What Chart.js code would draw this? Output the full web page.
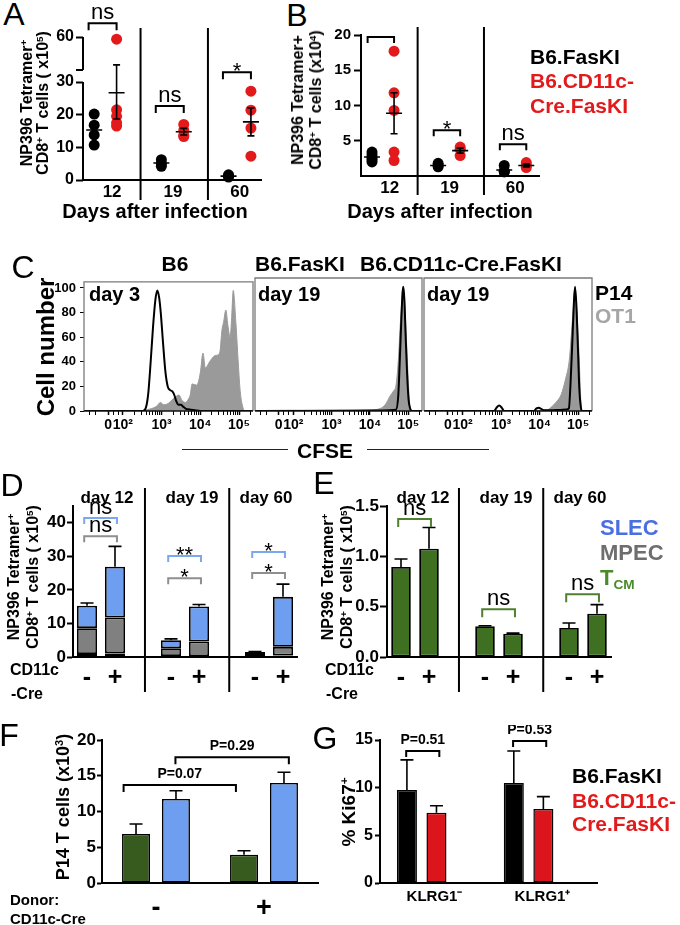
<!DOCTYPE html>
<html><head><meta charset="utf-8"><title>Figure</title>
<script src="https://cdn.jsdelivr.net/npm/chart.js@4.4.1/dist/chart.umd.min.js"></script>
<style>
html,body{margin:0;padding:0;background:#fff;}
#fig{position:relative;width:680px;height:925px;overflow:hidden;background:#fff;font-family:"Liberation Sans",Arial,Helvetica,sans-serif;color:#000;}
#fig canvas{position:absolute;}
.t{position:absolute;white-space:nowrap;line-height:1;font-weight:bold;}
.c{transform:translate(-50%,-50%);}
.l{transform:translate(0,-50%);}
.r{transform:translate(-50%,-50%) rotate(-90deg);text-align:center;}
.let{position:absolute;font-weight:normal;font-size:32px;line-height:1;transform:translate(-50%,-50%);}
sup{font-size:0.62em;line-height:0;vertical-align:0.55em;}
sub{font-size:0.62em;line-height:0;vertical-align:-0.3em;}
.hl{position:absolute;height:0;border-top:1.3px solid #222;}
</style></head>
<body><div id="fig">
<div class="let" style="left:14px;top:14px">A</div>
<div class="let" style="left:297px;top:15px">B</div>
<div class="let" style="left:23px;top:267px">C</div>
<div class="let" style="left:12px;top:485px">D</div>
<div class="let" style="left:324px;top:483px">E</div>
<div class="let" style="left:9px;top:735px">F</div>
<div class="let" style="left:325px;top:738px">G</div>

<div class="t r" style="left:35px;top:103px;font-size:16px;line-height:16px">NP396 Tetramer<sup>+</sup><br>CD8<sup>+</sup> T cells ( x10<sup>5</sup>)</div>
<div class="t c" style="left:155px;top:211px;font-size:20px">Days after infection</div>
<div class="t r" style="left:307px;top:100px;font-size:16px;line-height:18px">NP396 Tetramer+<br>CD8<sup>+</sup> T cells (x10<sup>4</sup>)</div>
<div class="t c" style="left:440px;top:211px;font-size:20px">Days after infection</div>
<div class="t l" style="left:530px;top:56px;font-size:21px">B6.FasKI</div>
<div class="t l" style="left:530px;top:80px;font-size:21px;color:#e31a1c">B6.CD11c-</div>
<div class="t l" style="left:530px;top:105px;font-size:21px;color:#e31a1c">Cre.FasKI</div>

<div class="t c" style="left:175px;top:263px;font-size:21px">B6</div>
<div class="t l" style="left:255px;top:263px;font-size:21px">B6.FasKI</div>
<div class="t l" style="left:360px;top:263px;font-size:21px">B6.CD11c-Cre.FasKI</div>
<div class="t r" style="left:46px;top:347px;font-size:24px">Cell number</div>
<div class="t l" style="left:89px;top:294px;font-size:20px">day 3</div>
<div class="t l" style="left:258px;top:294px;font-size:20px">day 19</div>
<div class="t l" style="left:427px;top:294px;font-size:20px">day 19</div>
<div class="t l" style="left:595px;top:292px;font-size:21px">P14</div>
<div class="t l" style="left:595px;top:315px;font-size:21px;color:#a6a6a6">OT1</div>
<div class="hl" style="left:182px;top:449px;width:106px"></div>
<div class="t c" style="left:325px;top:450px;font-size:21px">CFSE</div>
<div class="hl" style="left:367px;top:449px;width:122px"></div>

<div class="t r" style="left:23px;top:577px;font-size:16px;line-height:19px">NP396 Tetramer<sup>+</sup><br>CD8<sup>+</sup> T cells ( x10<sup>5</sup>)</div>
<div class="t c" style="left:107px;top:497px;font-size:17px">day 12</div>
<div class="t c" style="left:192px;top:497px;font-size:17px">day 19</div>
<div class="t c" style="left:266px;top:497px;font-size:17px">day 60</div>
<div class="t l" style="left:10px;top:670px;font-size:16px">CD11c</div>
<div class="t l" style="left:11px;top:694px;font-size:16px">-Cre</div>

<div class="t r" style="left:337px;top:577px;font-size:16px;line-height:19px">NP396 Tetramer<sup>+</sup><br>CD8<sup>+</sup> T cells ( x10<sup>5</sup>)</div>
<div class="t c" style="left:423px;top:497px;font-size:17px">day 12</div>
<div class="t c" style="left:506px;top:497px;font-size:17px">day 19</div>
<div class="t c" style="left:580px;top:497px;font-size:17px">day 60</div>
<div class="t l" style="left:600px;top:528px;font-size:22px;color:#4a6fe3">SLEC</div>
<div class="t l" style="left:600px;top:553px;font-size:22px;color:#6e6e6e">MPEC</div>
<div class="t l" style="left:600px;top:578px;font-size:22px;color:#4b8a2b">T<sub>CM</sub></div>
<div class="t l" style="left:325px;top:670px;font-size:16px">CD11c</div>
<div class="t l" style="left:326px;top:694px;font-size:16px">-Cre</div>

<div class="t r" style="left:63px;top:807px;font-size:18px">P14 T cells (x10<sup>3</sup>)</div>
<div class="t l" style="left:10px;top:899px;font-size:15px">Donor:</div>
<div class="t l" style="left:10px;top:918px;font-size:15px">CD11c-Cre</div>

<div class="t r" style="left:348px;top:812px;font-size:19px">% Ki67<sup>+</sup></div>
<div class="t l" style="left:572px;top:775px;font-size:21px">B6.FasKI</div>
<div class="t l" style="left:572px;top:800px;font-size:21px;color:#e31a1c">B6.CD11c-</div>
<div class="t l" style="left:572px;top:823px;font-size:21px;color:#e31a1c">Cre.FasKI</div>
</div>
<script>
// ================= DATA =================
// Panel A: NP396 tetramer+ CD8+ T cells (x10^5), individual mice
const daysA = ['12', '19', '60'];
const aFasKI = [[20.2, 16.8, 13.8, 10.7], [6.2, 5.0, 4.2], [1.6, 1.2, 0.9]];
const aCre = [[58, 21.5, 19.5, 17.5, 16.5], [17.0, 15.2, 13.7, 13.3], [27.2, 21.4, 15.9, 7.3]];
const aFasKIMean = [15.3, 5.2, 1.2];
const aFasKISem = [2.0, 0.6, 0.2];
const aCreMean = [26.7, 14.8, 17.8];
const aCreSem = [8.0, 1.0, 4.3];
const aSig = ['ns', 'ns', '*'];
const aSigY = [48, 22.7, 33];
const aTicks = [0, 10, 20, 30, 60];

// Panel B: NP396 tetramer+ CD8+ T cells (x10^4)
const daysB = ['12', '19', '60'];
const bFasKI = [[3.4, 3.0, 2.6, 2.3, 2.0], [1.8, 1.5, 1.3], [1.5, 0.7, 0.6, 0.6]];
const bCre = [[17.7, 11.8, 9.3, 3.4, 2.2], [4.1, 3.8, 2.9], [1.9, 1.5, 1.2]];
const bFasKIMean = [2.7, 1.5, 0.85];
const bFasKISem = [0.3, 0.15, 0.25];
const bCreMean = [8.9, 3.6, 1.5];
const bCreSem = [2.9, 0.35, 0.2];
const bSig = ['', '*', 'ns'];
const bSigY = [19.7, 6.5, 4.5];
const bTicks = [5, 10, 15, 20];

// Panel C: CFSE histograms, [log10 CFSE, % of max]
const cfseMajor = [1.62, 2, 3, 4, 5];
const cfseMajorLbl = ['0', '10²', '10³', '10⁴', '10⁵'];
const c1P14 = [[1.0,0],[2.52,0],[2.6,3],[2.66,15],[2.72,40],[2.78,68],[2.84,90],[2.89,98],[2.94,92],[2.98,80],[3.04,55],[3.1,32],[3.16,20],[3.22,17],[3.28,16],[3.33,13],[3.38,8],[3.44,5],[3.5,5],[3.56,3.5],[3.62,2],[3.72,1.2],[3.85,0.6],[4.0,0],[5.36,0]];
const c1OT1 = [[1.0,0],[2.5,0],[2.62,1],[2.75,2],[2.88,4],[2.97,7],[3.06,5],[3.19,6.5],[3.3,10],[3.38,12],[3.45,13],[3.53,8.5],[3.62,7],[3.7,10],[3.74,13],[3.79,22],[3.91,21],[4.0,31],[4.07,47],[4.13,35],[4.26,41],[4.38,45],[4.5,47],[4.56,66],[4.6,72],[4.66,82],[4.71,70],[4.77,60],[4.81,76],[4.85,98],[4.92,71],[4.98,39],[5.03,16],[5.09,4],[5.15,0],[5.36,0]];
const c2P14 = [[1.0,0],[4.2,0.3],[4.5,0.6],[4.68,1],[4.74,12],[4.78,40],[4.82,72],[4.85,92],[4.87,98],[4.9,88],[4.93,62],[4.97,30],[5.01,9],[5.05,2],[5.1,0],[5.36,0]];
const c2OT1 = [[1.0,0.3],[1.8,0.6],[2.3,0.3],[3.0,0.2],[3.5,0.4],[4.0,0.8],[4.27,2],[4.4,5],[4.53,12],[4.62,16],[4.68,20],[4.74,39],[4.8,72],[4.87,98],[4.93,72],[4.98,38],[5.03,8],[5.07,0],[5.36,0]];
const c3P14 = [[1.0,0],[2.82,0],[2.88,2.5],[2.95,4.3],[3.02,2.5],[3.08,0],[3.85,0],[3.92,2],[3.98,2.6],[4.05,1.5],[4.12,0.5],[4.5,0.8],[4.7,1.2],[4.76,2],[4.8,20],[4.85,55],[4.89,85],[4.92,98],[4.96,80],[5.0,45],[5.03,18],[5.07,3],[5.1,0],[5.36,0]];
const c3OT1 = [[1.0,0],[3.5,0.3],[4.2,1],[4.3,3],[4.43,7],[4.56,13],[4.68,26],[4.77,40],[4.85,71],[4.92,98],[4.97,77],[5.03,40],[5.07,8],[5.1,0],[5.36,0]];
const cYTicks = [0, 20, 40, 60, 80, 100];

// Panel D: stacked subsets (x10^5); CD11c-Cre "-" and "+" per day
const creSigns = ['-', '+'];
const dMpecNeg = [7.7, 2.3, 0.9], dMpecPos = [10.7, 4.4, 2.6];
const dSlecNeg = [6.7, 2.4, 0.3], dSlecPos = [15.1, 10.4, 14.9];
const dErrNeg = [0.8, 0.4, 0.1], dErrPos = [6.1, 0.6, 3.8];
const dSigSlec = ['ns', '**', '*'], dSigSlecY = [41.4, 30.1, 31.3];
const dSigMpec = ['ns', '*', '*'], dSigMpecY = [36.0, 23.5, 25.0];
const dTicks = [0, 10, 20, 30, 40];

// Panel E: T_CM (x10^5)
const eTcmNeg = [0.894, 0.305, 0.288], eTcmPos = [1.076, 0.232, 0.43];
const eErrNeg = [0.08, 0.006, 0.05], eErrPos = [0.21, 0.005, 0.09];
const eSig = ['ns', 'ns', 'ns'], eSigY = [1.37, 0.475, 0.624];
const eTicks = [0, 0.5, 1.0, 1.5];

// Panel F: P14 T cells (x10^3), donor CD11c-Cre - / +
const fDonor = ['-', '+'];
const fGreen = [6.85, 3.96], fGreenErr = [1.4, 0.55];
const fBlue = [11.75, 14.0], fBlueErr = [1.15, 1.5];
const fSigLbl = ['P=0.07', 'P=0.29'], fSigX1 = [-0.3, 0.18], fSigX2 = [0.74, 1.23], fSigY = [13.7, 17.6];
const fTicks = [0, 5, 10, 15, 20];

// Panel G: % Ki67+
const gCats = ['KLRG1⁻', 'KLRG1⁺'];
const gFasKI = [9.76, 10.5], gFasKIErr = [3.15, 3.35];
const gCre = [7.38, 7.76], gCreErr = [0.73, 1.3];
const gSig = ['P=0.51', 'P=0.53'], gSigY = [13.85, 14.9];
const gTicks = [0, 5, 10, 15];

// ================= STYLE / LAYOUT =================
const FONT = '"Liberation Sans", Arial, Helvetica, sans-serif';
const RED = '#e31a1c', RED_BAR = '#dc141c', BLUE = '#6d9ef0', GRAY = '#808080', GREEN_D = '#4a8a2a', GREEN_E = '#3f7022', GREEN_F = '#375a1e';
const GROUP = 3; // slots per day group (two bars/dots + gap)
const DIVIDERS = [2.07, 5.08];

Chart.defaults.font.family = FONT;
Chart.defaults.font.weight = 'bold';
Chart.defaults.color = '#000';

class BrokenLinear extends Chart.LinearScale {
  getPixelForValue(v) {
    const b = this.options.brk, L = this.bottom - this.top;
    if (v <= b.at) return this.bottom - (v - this.min) / (b.at - this.min) * b.low * L;
    return this.bottom - (b.low + b.gap) * L - (v - b.at) / (this.max - b.at) * (1 - b.low - b.gap) * L;
  }
  getValueForPixel(p) {
    const b = this.options.brk, L = this.bottom - this.top, d = (this.bottom - p) / L;
    if (d <= b.low) return this.min + d / b.low * (b.at - this.min);
    return b.at + (d - b.low - b.gap) / (1 - b.low - b.gap) * (this.max - b.at);
  }
  annotPixel(v) {
    const b = this.options.brk, L = this.bottom - this.top;
    return this.bottom - (v - this.min) / (b.at - this.min) * b.low * L;
  }
  upperStart() {
    const b = this.options.brk, L = this.bottom - this.top;
    return this.bottom - (b.low + b.gap) * L;
  }
}
BrokenLinear.id = 'brokenLinear';
BrokenLinear.defaults = Chart.LinearScale.defaults;
Chart.register(BrokenLinear);

function deco(o) {
  return {
    id: 'deco',
    afterDatasetsDraw(chart) {
      const ctx = chart.ctx, ca = chart.chartArea, xs = chart.scales.x, ys = chart.scales.y;
      const yp = v => (ys.annotPixel ? ys.annotPixel(v) : ys.getPixelForValue(v));
      ctx.save();
      if (o.box) {
        ctx.strokeStyle = o.box; ctx.lineWidth = 1.3;
        ctx.beginPath(); ctx.moveTo(ca.left, ca.bottom); ctx.lineTo(ca.left, ca.top); ctx.lineTo(ca.right, ca.top); ctx.lineTo(ca.right, ca.bottom); ctx.stroke();
        ctx.strokeStyle = '#111'; ctx.lineWidth = 1.6;
        ctx.beginPath(); ctx.moveTo(ca.left, ca.bottom); ctx.lineTo(ca.right, ca.bottom); ctx.stroke();
      }
      if (o.broken) {
        const us = ys.upperStart();
        ctx.strokeStyle = '#000'; ctx.lineWidth = 2;
        ctx.beginPath();
        ctx.moveTo(ca.left, ca.bottom); ctx.lineTo(ca.left, ys.getPixelForValue(ys.options.brk.at));
        ctx.moveTo(ca.left, us); ctx.lineTo(ca.left, ca.top);
        ctx.moveTo(ca.left - 7, us); ctx.lineTo(ca.left, us);
        ctx.stroke();
      }
      chart.data.datasets.forEach((ds, di) => {
        if (ds.means) {
          ctx.strokeStyle = '#000'; ctx.lineWidth = 1.6;
          ds.means.forEach((m, g) => {
            const x = xs.getPixelForValue(ds.slots[g]);
            const ym = ys.getPixelForValue(m), yt = ys.getPixelForValue(m + ds.sems[g]), yb = ys.getPixelForValue(Math.max(0, m - ds.sems[g]));
            ctx.beginPath();
            ctx.moveTo(x - 8, ym); ctx.lineTo(x + 8, ym);
            ctx.moveTo(x, yt); ctx.lineTo(x, yb);
            ctx.moveTo(x - 3.5, yt); ctx.lineTo(x + 3.5, yt);
            ctx.moveTo(x - 3.5, yb); ctx.lineTo(x + 3.5, yb);
            ctx.stroke();
          });
        }
        if (ds.errors) {
          const meta = chart.getDatasetMeta(di);
          ctx.strokeStyle = '#000'; ctx.lineWidth = 1.6;
          meta.data.forEach((el, i) => {
            const e = ds.errors[i];
            if (e == null || !el || !isFinite(el.y)) return;
            const yt = ys.getPixelForValue(ys.getValueForPixel(el.y) + e);
            ctx.beginPath(); ctx.moveTo(el.x, el.y); ctx.lineTo(el.x, yt);
            ctx.moveTo(el.x - 6.5, yt); ctx.lineTo(el.x + 6.5, yt); ctx.stroke();
          });
        }
      });
      (o.dividers || []).forEach(v => {
        const x = xs.getPixelForValue(v);
        ctx.strokeStyle = '#000'; ctx.lineWidth = 2;
        ctx.beginPath(); ctx.moveTo(x, ca.top - o.divExt[0]); ctx.lineTo(x, ca.bottom + o.divExt[1]); ctx.stroke();
      });
      (o.brackets || []).forEach(b => {
        const x1 = xs.getPixelForValue(b.x1), x2 = xs.getPixelForValue(b.x2), y = yp(b.y);
        ctx.strokeStyle = b.color || '#000'; ctx.lineWidth = 2;
        ctx.beginPath(); ctx.moveTo(x1, y + b.leg); ctx.lineTo(x1, y); ctx.lineTo(x2, y); ctx.lineTo(x2, y + b.leg); ctx.stroke();
        if (b.label) {
          const p = b.label.charAt(0) === 'P', star = b.label.charAt(0) === '*';
          ctx.font = p ? 'bold 14px ' + FONT : 'normal 22px ' + FONT;
          ctx.fillStyle = '#000'; ctx.textAlign = 'center'; ctx.textBaseline = 'alphabetic';
          ctx.fillText(b.label, (x1 + x2) / 2, y + (star ? 6 : (p ? -7 : -4)));
        }
      });
      ctx.restore();
    }
  };
}

function mk(left, top, w, h, cfg) {
  const fig = document.getElementById('fig');
  const c = document.createElement('canvas');
  c.width = w; c.height = h;
  c.style.left = left + 'px'; c.style.top = top + 'px';
  c.style.width = w + 'px'; c.style.height = h + 'px';
  fig.insertBefore(c, fig.firstChild);
  cfg.options = Object.assign({responsive: false, maintainAspectRatio: false, animation: false, devicePixelRatio: 1, events: []}, cfg.options);
  cfg.options.plugins = Object.assign({legend: {display: false}, tooltip: {enabled: false}}, cfg.options.plugins || {});
  return new Chart(c, cfg);
}

function yAx(o) {
  return Object.assign({
    type: 'linear', position: 'left', min: o.min, max: o.max, bounds: 'data',
    afterFit: s => { s.width = o.w; },
    afterBuildTicks: s => { s.ticks = o.ticks.map(v => ({value: v})); },
    grid: {display: true, drawOnChartArea: false, drawTicks: true, tickLength: o.tl, tickWidth: o.tw || 2, tickColor: '#000'},
    border: {display: o.border !== false, width: 2, color: '#000'},
    ticks: {font: {size: o.fs, weight: 'bold'}, color: '#000', padding: o.pad, callback: o.cb || (v => String(v))}
  }, o.extra || {});
}

function xAx(o) {
  const base = {
    position: 'bottom', offset: o.type !== 'linear' ? true : false,
    afterFit: s => { s.height = o.h; },
    grid: {display: true, drawOnChartArea: false, drawTicks: false, offset: false},
    border: {display: true, width: 2, color: '#000'},
    ticks: {font: {size: o.fs, weight: 'bold'}, color: '#000', padding: o.pad, autoSkip: false, maxRotation: 0, minRotation: 0}
  };
  if (o.type === 'linear') {
    base.type = 'linear'; base.min = o.min; base.max = o.max; base.bounds = 'data';
    base.afterBuildTicks = s => { s.ticks = o.tickPos.map(v => ({value: v})); };
    base.ticks.callback = (v, i) => o.labels[i];
  } else {
    base.type = 'category';
  }
  return Object.assign(base, o.extra || {});
}

const pts = (groups, off) => groups.flatMap((vals, g) => vals.map(v => ({x: g * GROUP + off, y: v})));
const slotsOf = (groups, off) => groups.map((_, g) => g * GROUP + off);
const eight = (neg, pos) => { const a = []; neg.forEach((v, g) => { a.push(v, pos[g]); if (g < neg.length - 1) a.push(null); }); return a; };
const slotLabels = eight([creSigns[0], creSigns[0], creSigns[0]], [creSigns[1], creSigns[1], creSigns[1]]).map(v => v === null ? '' : v);
const grpBrackets = (sig, ys, color, leg, ext) => sig.map((s, g) => ({x1: g * GROUP - ext[0], x2: g * GROUP + 1 + ext[1], y: ys[g], label: s, color, leg}));
const labelPosAB = [0.8, 3.52, 6.5];

// ================= PANEL A =================
mk(35, 0, 245, 210, {
  type: 'scatter',
  data: {datasets: [
    {data: pts(aFasKI, 0), backgroundColor: '#000', borderWidth: 0, pointRadius: 5.5, clip: false, means: aFasKIMean, sems: aFasKISem, slots: slotsOf(aFasKI, 0)},
    {data: pts(aCre, 1), backgroundColor: RED, borderWidth: 0, pointRadius: 5.5, clip: false, means: aCreMean, sems: aCreSem, slots: slotsOf(aCre, 1)}
  ]},
  options: {
    layout: {padding: {top: 37, right: 19, left: 0, bottom: 0}},
    scales: {
      x: xAx({type: 'linear', min: -0.5, max: 7.45, h: 30, tickPos: labelPosAB, labels: daysA, fs: 17, pad: 2}),
      y: yAx({min: 0, max: 60, w: 48, ticks: aTicks, tl: 7, fs: 16, pad: 2, border: false, extra: {type: 'brokenLinear', brk: {at: 30, low: 0.685, gap: 0.084}}})
    }
  },
  plugins: [deco({broken: true, dividers: DIVIDERS, divExt: [9, 20], brackets: grpBrackets(aSig, aSigY, '#000', 7, [0.25, 0])})]
});

// ================= PANEL B =================
mk(315, 0, 230, 210, {
  type: 'scatter',
  data: {datasets: [
    {data: pts(bFasKI, 0), backgroundColor: '#000', borderWidth: 0, pointRadius: 5.5, clip: false, means: bFasKIMean, sems: bFasKISem, slots: slotsOf(bFasKI, 0)},
    {data: pts(bCre, 1), backgroundColor: RED, borderWidth: 0, pointRadius: 5.5, clip: false, means: bCreMean, sems: bCreSem, slots: slotsOf(bCre, 1)}
  ]},
  options: {
    layout: {padding: {top: 35, right: 4, left: 0, bottom: 0}},
    scales: {
      x: xAx({type: 'linear', min: -0.5, max: 7.6, h: 34, tickPos: labelPosAB, labels: daysB, fs: 17, pad: 2}),
      y: yAx({min: 0, max: 20, w: 46, ticks: bTicks, tl: 7, fs: 15, pad: 3})
    }
  },
  plugins: [deco({dividers: DIVIDERS, divExt: [8, 19], brackets: grpBrackets(bSig, bSigY, '#000', 6, [0.2, 0])})]
});

// ================= PANEL C =================
const cfseMinor = [];
[2, 3, 4].forEach(n => { for (let k = 2; k <= 9; k++) cfseMinor.push(n + Math.log10(k)); });
cfseMinor.push(5 + Math.log10(2), 1.15, 1.3, 1.75, 1.88);
const cfseAll = cfseMajor.concat(cfseMinor).sort((a, b) => a - b);
const majorIdx = v => cfseMajor.findIndex(m => Math.abs(m - v) < 1e-6);

function cfseChart(left, w, padL, padR, p14, ot1, showY) {
  return mk(left, 270, w, 170, {
    type: 'line',
    data: {datasets: [
      {data: p14.map(([x, y]) => ({x, y})), borderColor: '#000', borderWidth: 2, pointRadius: 0, fill: false, cubicInterpolationMode: 'monotone'},
      {data: ot1.map(([x, y]) => ({x, y})), borderColor: '#9a9a9a', backgroundColor: '#9a9a9a', borderWidth: 1, pointRadius: 0, fill: 'origin', cubicInterpolationMode: 'monotone'}
    ]},
    options: {
      layout: {padding: {top: 8, right: padR, left: padL, bottom: 0}},
      scales: {
        x: {
          type: 'linear', position: 'bottom', min: 1.0, max: 5.36, bounds: 'data',
          afterFit: s => { s.height = 29; },
          afterBuildTicks: s => { s.ticks = cfseAll.map(v => ({value: v})); },
          grid: {display: true, drawOnChartArea: false, drawTicks: true, tickLength: 4, tickColor: '#000',
                 tickWidth: c => (c.tick && majorIdx(c.tick.value) >= 0 ? 1.5 : 1)},
          border: {display: false},
          ticks: {font: {size: 14, weight: 'bold'}, color: '#000', padding: 2, autoSkip: false, maxRotation: 0,
                  callback: v => { const i = majorIdx(v); return i >= 0 ? cfseMajorLbl[i] : ''; }}
        },
        y: yAx({min: 0, max: 105, w: showY ? 44 : 0, ticks: cYTicks, tl: 4, tw: 1, fs: 13, pad: 4, border: false, extra: {display: showY}})
      }
    },
    plugins: [deco({box: '#7a7a7a'})]
  });
}
cfseChart(40, 225, 0, 12, c1P14, c1OT1, true);
cfseChart(250, 180, 5, 8, c2P14, c2OT1, false);
cfseChart(419, 180, 5, 7, c3P14, c3OT1, false);

// ================= PANEL D =================
mk(20, 480, 300, 230, {
  type: 'bar',
  data: {labels: slotLabels, datasets: [
    {data: eight(eTcmNeg, eTcmPos), backgroundColor: GREEN_D, stack: 's'},
    {data: eight(dMpecNeg, dMpecPos), backgroundColor: GRAY, stack: 's'},
    {data: eight(dSlecNeg, dSlecPos), backgroundColor: BLUE, stack: 's', errors: eight(dErrNeg, dErrPos)}
  ]},
  options: {
    datasets: {bar: {borderColor: '#000', borderWidth: 1.8, borderSkipped: false, barPercentage: 0.72, categoryPercentage: 1}},
    layout: {padding: {top: 26, right: 23, left: 0, bottom: 0}},
    scales: {
      x: xAx({h: 53, fs: 25, pad: 6, extra: {stacked: true}}),
      y: yAx({min: 0, max: 45, w: 53, ticks: dTicks, tl: 6, fs: 17, pad: 1, extra: {stacked: true}})
    }
  },
  plugins: [deco({dividers: DIVIDERS, divExt: [18, 35], brackets: grpBrackets(dSigSlec, dSigSlecY, '#7ba7f0', 6, [0.1, 0.07]).concat(grpBrackets(dSigMpec, dSigMpecY, '#8f8f8f', 6, [0.1, 0.07]))})]
});

// ================= PANEL E =================
mk(340, 480, 330, 230, {
  type: 'bar',
  data: {labels: slotLabels, datasets: [
    {data: eight(eTcmNeg, eTcmPos), backgroundColor: GREEN_E, errors: eight(eErrNeg, eErrPos)}
  ]},
  options: {
    datasets: {bar: {borderColor: '#000', borderWidth: 1.8, borderSkipped: false, barPercentage: 0.7, categoryPercentage: 1}},
    layout: {padding: {top: 26, right: 59, left: 0, bottom: 0}},
    scales: {
      x: xAx({h: 53, fs: 25, pad: 6}),
      y: yAx({min: 0, max: 1.5, w: 47, ticks: eTicks, tl: 7, fs: 17, pad: 1, cb: v => v.toFixed(1)})
    }
  },
  plugins: [deco({dividers: DIVIDERS, divExt: [18, 35], brackets: grpBrackets(eSig, eSigY, '#4f8030', 8, [0.1, 0.07])})]
});

// ================= PANEL F =================
mk(40, 725, 300, 200, {
  type: 'bar',
  data: {labels: fDonor, datasets: [
    {data: fGreen, backgroundColor: GREEN_F, errors: fGreenErr},
    {data: fBlue, backgroundColor: BLUE, errors: fBlueErr}
  ]},
  options: {
    datasets: {bar: {borderColor: '#000', borderWidth: 1.6, borderSkipped: false, barPercentage: 0.7, categoryPercentage: 0.74}},
    layout: {padding: {top: 15, right: 22, left: 0, bottom: 0}},
    scales: {
      x: xAx({h: 42, fs: 27, pad: 9}),
      y: yAx({min: 0, max: 20, w: 62, ticks: fTicks, tl: 5, fs: 17, pad: 1})
    }
  },
  plugins: [deco({brackets: fSigLbl.map((l, i) => ({x1: fSigX1[i], x2: fSigX2[i], y: fSigY[i], label: l, color: '#000', leg: 7}))})]
});

// ================= PANEL G =================
mk(340, 725, 300, 200, {
  type: 'bar',
  data: {datasets: [
    {data: gFasKI.map((v, i) => ({x: i, y: v})), backgroundColor: '#000', errors: gFasKIErr},
    {data: gCre.map((v, i) => ({x: i, y: v})), backgroundColor: RED_BAR, errors: gCreErr}
  ]},
  options: {
    datasets: {bar: {borderColor: '#000', borderWidth: 1.5, borderSkipped: false, barPercentage: 0.678, categoryPercentage: 0.553}},
    layout: {padding: {top: 15, right: 43, left: 0, bottom: 0}},
    scales: {
      x: xAx({type: 'linear', min: -0.39, max: 1.64, h: 42, tickPos: [0.12, 1.13], labels: gCats, fs: 15, pad: 5}),
      y: yAx({min: 0, max: 15, w: 40, ticks: gTicks, tl: 5, fs: 16, pad: 2})
    }
  },
  plugins: [deco({brackets: gSig.map((l, i) => ({x1: i - 0.145, x2: i + 0.165, y: gSigY[i], label: l, color: '#000', leg: 6}))})]
});
</script>
</body></html>
